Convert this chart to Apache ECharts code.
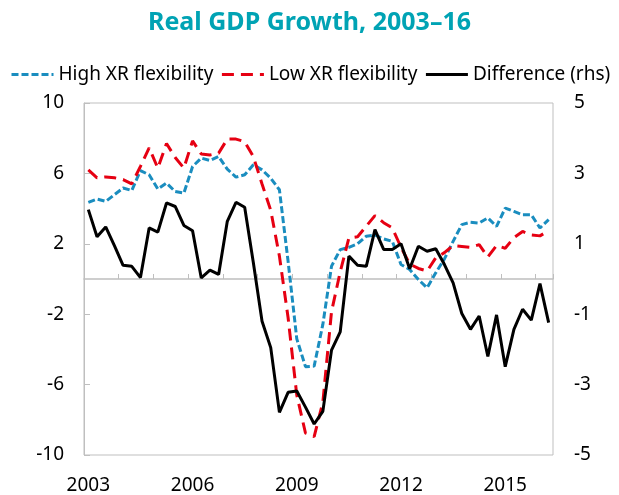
<!DOCTYPE html>
<html>
<head>
<meta charset="utf-8">
<script src="https://cdn.jsdelivr.net/npm/echarts@6/dist/echarts.min.js"></script>
<style>
  html, body { margin: 0; padding: 0; background: #fff; }
  #chart { width: 619px; height: 495px; }
</style>
</head>
<body>
<div id="chart"></div>
<script>
// quarterly, 2003Q1 - 2016Q2
const years = [2003, 2004, 2005, 2006, 2007, 2008, 2009, 2010, 2011, 2012, 2013, 2014, 2015, 2016];
const quarters = [];
years.forEach(function (y) {
  [1, 2, 3, 4].forEach(function (q) {
    if (y === 2016 && q > 2) return;
    quarters.push(y + "Q" + q);
  });
});

const highFlex = [4.35, 4.54, 4.41, 4.79, 5.17, 5.03, 6.16, 5.92, 5.11, 5.45,
  4.97, 4.88, 6.39, 6.87, 6.73, 6.96, 6.24, 5.79, 5.92, 6.49,
  6.2, 5.73, 5.07, 1.0, -3.4, -4.98, -4.95, -2.58, 0.73, 1.67,
  1.8, 2.0, 2.43, 2.5, 2.28, 2.14, 0.82, 0.54, -0.03, -0.5,
  0.35, 1.14, 2.14, 3.09, 3.22, 3.18, 3.47, 2.99, 4.03, 3.84,
  3.65, 3.65, 2.9, 3.37];

const lowFlex = [6.2, 5.75, 5.8, 5.75, 5.65, 5.4, 6.4, 7.45, 6.3, 7.7,
  6.9, 6.3, 7.85, 7.1, 7.05, 7.15, 7.95, 7.95, 7.8, 6.95,
  5.4, 3.9, 1.3, -2.2, -6.6, -8.75, -8.95, -7.0, -1.85, 0.4,
  2.33, 2.4, 3.0, 3.6, 3.2, 2.9, 1.8, 0.85, 0.6, 0.45,
  1.2, 1.5, 1.9, 1.85, 1.8, 1.95, 1.25, 1.9, 1.75, 2.35,
  2.7, 2.5, 2.45, 2.75];

const difference = [1.97, 1.2, 1.48, 0.95, 0.39, 0.36, 0.04, 1.45, 1.33, 2.16,
  2.06, 1.52, 1.37, 0.03, 0.25, 0.13, 1.64, 2.18, 2.04, 0.46,
  -1.2, -1.95, -3.79, -3.22, -3.18, -3.64, -4.12, -3.76, -2.02, -1.5,
  0.65, 0.39, 0.36, 1.4, 0.84, 0.84, 1.0, 0.29, 0.93, 0.79,
  0.86, 0.41, -0.11, -0.98, -1.43, -1.05, -2.2, -1.02, -2.49, -1.43,
  -0.86, -1.17, -0.13, -1.24];

const font = "Noto Sans";
const grey = "#bfbfbf";

const myChart = echarts.init(document.getElementById("chart"));
const option = {
  animation: false,
  title: {
    text: "Real GDP Growth, 2003\u201316",
    left: "center",
    top: 5,
    textStyle: {
      fontFamily: font,
      fontSize: 25,
      fontWeight: "bold",
      color: "#00a3b4",
    },
  },
  legend: {
    top: 65,
    left: 10,
    width: 609,
    padding: 0,
    itemWidth: 42,
    itemHeight: 12,
    itemGap: 7,
    itemStyle: { opacity: 0 },
    lineStyle: { width: 3 },
    textStyle: { fontFamily: font, fontSize: 19, color: "#000" },
    data: ["High XR flexibility", "Low XR flexibility", "Difference (rhs)"],
  },
  grid: {
    left: 84,
    right: 66,
    top: 103,
    bottom: 39,
    show: true,
    borderColor: grey,
    borderWidth: 1,
  },
  xAxis: [
    {
      type: "category",
      data: quarters,
      position: "bottom",
      axisLine: { show: false },
      axisTick: { show: false },
      axisLabel: {
        interval: 11,
        margin: 21,
        fontFamily: font,
        fontSize: 19,
        color: "#000",
        formatter: function (v) { return v.slice(0, 4); },
      },
    },
    {
      type: "category",
      data: quarters,
      position: "bottom",
      axisLine: { show: true, onZero: true, lineStyle: { color: grey, width: 1.5 } },
      axisTick: { show: true, inside: true, interval: 3, length: 5, lineStyle: { color: grey } },
      axisLabel: { show: false },
    },
  ],
  yAxis: [
    {
      type: "value",
      min: -10,
      max: 10,
      interval: 4,
      axisLine: { show: true, lineStyle: { color: grey } },
      axisTick: { show: true, inside: true, length: 6, lineStyle: { color: grey } },
      splitLine: { show: false },
      axisLabel: { margin: 20, fontFamily: font, fontSize: 19, color: "#000" },
    },
    {
      type: "value",
      min: -5,
      max: 5,
      interval: 2,
      axisLine: { show: false },
      axisTick: { show: false },
      splitLine: { show: false },
      axisLabel: { margin: 21, fontFamily: font, fontSize: 19, color: "#000" },
    },
  ],
  series: [
    {
      name: "High XR flexibility",
      type: "line",
      data: highFlex,
      yAxisIndex: 0,
      symbol: "none",
      lineStyle: { color: "#1a8dbf", width: 3, type: [7, 3] },
      itemStyle: { color: "#1a8dbf" },
    },
    {
      name: "Low XR flexibility",
      type: "line",
      data: lowFlex,
      yAxisIndex: 0,
      symbol: "none",
      lineStyle: { color: "#e60012", width: 3, type: [12, 7] },
      itemStyle: { color: "#e60012" },
    },
    {
      name: "Difference (rhs)",
      type: "line",
      data: difference,
      yAxisIndex: 1,
      symbol: "none",
      lineStyle: { color: "#000", width: 3 },
      itemStyle: { color: "#000" },
    },
  ],
};
myChart.setOption(option);
</script>
</body>
</html>
